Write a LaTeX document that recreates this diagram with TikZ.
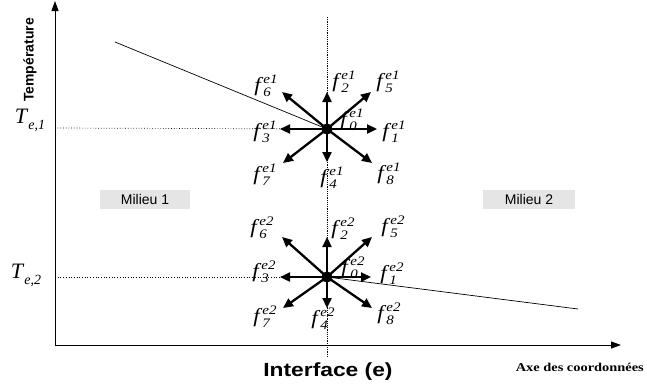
\documentclass[tikz,border=0pt]{standalone}
\usepackage{fontspec}
\setmainfont{Liberation Serif}
\setsansfont{Liberation Sans}
\usetikzlibrary{arrows.meta}
\newcommand\flab[2]{\textit{f}\rlap{\raisebox{-5pt}{\fontsize{13}{13}\selectfont\textit{#1}}}\raisebox{8pt}{\fontsize{13}{13}\selectfont\textit{#2}}}
\newcommand\tlab[1]{\textit{T}\raisebox{-6pt}{\fontsize{14}{14}\selectfont\textit{#1}}}
\begin{document}
\begin{tikzpicture}[x=1pt,y=-1pt,
  axis/.style={line width=1pt,{Triangle[length=10pt,width=7pt]}-{Triangle[length=10pt,width=7pt]}},
  vec/.style={line width=2.3pt,-{Triangle[length=10pt,width=9pt]}},
  guide/.style={dotted,line width=0.7pt},
  iface/.style={line width=0.9pt,dash pattern=on 1.2pt off 1pt},
  lab/.style={font=\fontsize{20}{20}\selectfont,inner sep=0pt,xscale=1.15},
  milieu/.style={fill=black!10,inner sep=0pt,minimum height=19pt,font=\sffamily\fontsize{14}{14}\selectfont},
  dot/.style={circle,fill=black,minimum size=11pt,inner sep=0pt}]
\useasboundingbox (0,0) rectangle (647,389);
% axes
\coordinate (Ytop) at (55,1);
\coordinate (O) at (55,345);
\coordinate (Xend) at (621,345);
\draw[axis] (Ytop) -- (O) -- (Xend);
% interface line
\coordinate (Itop) at (327,17);
\coordinate (Ibot) at (327,356);
\draw[iface] (Itop) -- (Ibot);
% nodes
\node[dot] (c1) at (327,129) {};
\node[dot] (c2) at (327,277) {};
% guide lines
\coordinate (T1) at (55,128);
\coordinate (T2) at (55,277);
\draw[guide] (T1) -- (c1.center);
\draw[guide] (T2) -- (c2.center);
% temperature profile
\coordinate (L1) at (115,42);
\coordinate (L2) at (578,309);
\draw[line width=0.7pt] (L1) -- (c1.center);
\draw[line width=0.7pt] (c2.center) -- (L2);
% upper vectors
\coordinate (u1) at (377,129);
\coordinate (u2) at (327,92);
\coordinate (u3) at (280,129);
\coordinate (u4) at (327,162);
\coordinate (u5) at (371,92);
\coordinate (u6) at (282,92);
\coordinate (u7) at (283,163);
\coordinate (u8) at (372,163);
\foreach \i in {1,...,8} \draw[vec] (c1.center) -- (u\i);
% lower vectors
\coordinate (d1) at (371,277);
\coordinate (d2) at (327,237);
\coordinate (d3) at (280,277);
\coordinate (d4) at (327,308);
\coordinate (d5) at (372,237);
\coordinate (d6) at (282,237);
\coordinate (d7) at (283,308);
\coordinate (d8) at (372,308);
\foreach \i in {1,...,8} \draw[vec] (c2.center) -- (d\i);
\fill (c1) circle (5.5pt);
\fill (c2) circle (5.5pt);
% upper labels
\node[lab] (a6) at (266,86) {\flab{6}{e1}};
\node[lab] (a2) at (344,82) {\flab{2}{e1}};
\node[lab] (a5) at (388,82) {\flab{5}{e1}};
\node[lab] (a0) at (352,120) {\flab{0}{e1}};
\node[lab] (a3) at (265,132) {\flab{3}{e1}};
\node[lab] (a1) at (394,132) {\flab{1}{e1}};
\node[lab] (a7) at (265,175) {\flab{7}{e1}};
\node[lab] (a4) at (332,178) {\flab{4}{e1}};
\node[lab] (a8) at (389,174) {\flab{8}{e1}};
% lower labels
\node[lab] (b6) at (262,228) {\flab{6}{e2}};
\node[lab] (b2) at (343,229) {\flab{2}{e2}};
\node[lab] (b5) at (393,227) {\flab{5}{e2}};
\node[lab] (b0) at (353,268) {\flab{0}{e2}};
\node[lab] (b3) at (264,272) {\flab{3}{e2}};
\node[lab] (b1) at (392,274) {\flab{1}{e2}};
\node[lab] (b7) at (265,317) {\flab{7}{e2}};
\node[lab] (b4) at (323,319) {\flab{4}{e2}};
\node[lab] (b8) at (389,314) {\flab{8}{e2}};
% temperature labels
\node[inner sep=0pt,font=\fontsize{22}{22}\selectfont] (te1) at (30,120) {\tlab{e,1}};
\node[inner sep=0pt,font=\fontsize{22}{22}\selectfont] (te2) at (26,275) {\tlab{e,2}};
\node[rotate=90,inner sep=0pt,font=\sffamily\bfseries\fontsize{14}{14}\selectfont] (ylab) at (30,60) {Température};
% media
\node[milieu,minimum width=90pt] (m1) at (145,199.5) {Milieu 1};
\node[milieu,minimum width=92pt] (m2) at (529,199) {Milieu 2};
% bottom texts
\node[inner sep=0pt,xscale=1.2,font=\sffamily\bfseries\fontsize{19}{19}\selectfont] (itf) at (328,372) {Interface (e)};
\node[inner sep=0pt,xscale=1.2,anchor=east,font=\bfseries\fontsize{12}{12}\selectfont] (xlab) at (644,367) {Axe des coordonnées};
\end{tikzpicture}
\end{document}
